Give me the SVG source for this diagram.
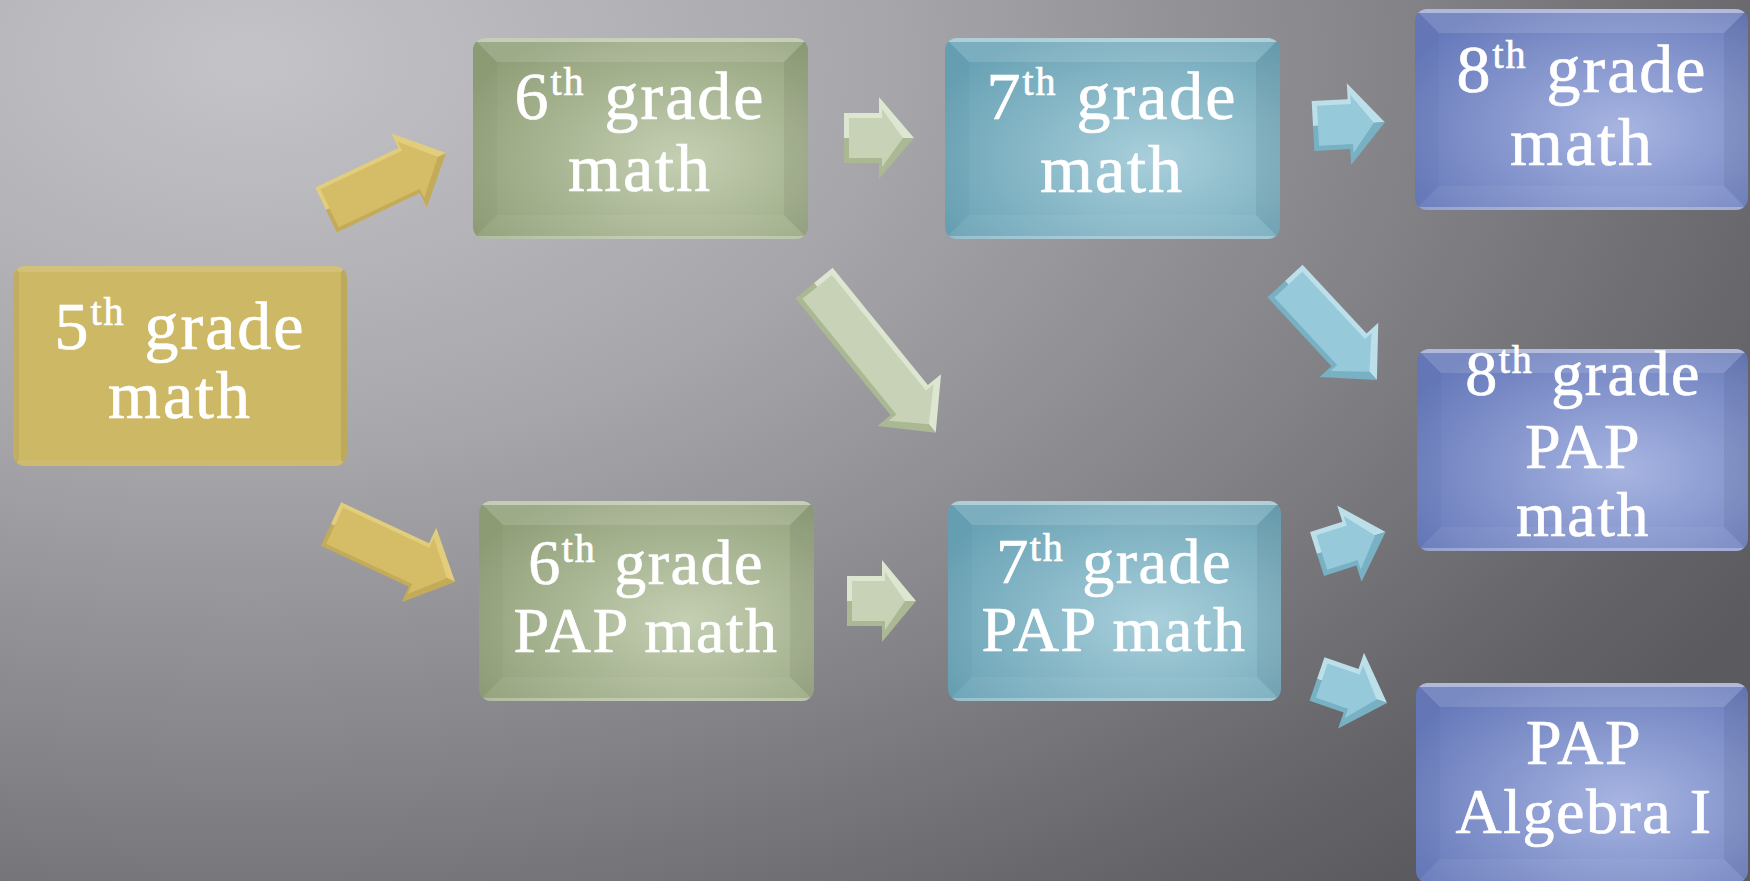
<svg xmlns="http://www.w3.org/2000/svg" width="1750" height="881" viewBox="0 0 1750 881">
<style>
.lbl{font-family:"Liberation Serif","DejaVu Serif",serif;fill:#ffffff;stroke:#ffffff;stroke-width:0.7px;text-anchor:middle}
.big{font-size:68px;letter-spacing:2px}
.pap{font-size:64px;letter-spacing:1.5px}
.sup{font-size:40px;letter-spacing:2px}
.bvT{fill:#ffffff;fill-opacity:0.13}
.bvB{fill:#ffffff;fill-opacity:0.05}
.bvL{fill:#000000;fill-opacity:0.02}
.bvR{fill:#000000;fill-opacity:0.06}
.hiT{fill:#ffffff;fill-opacity:0.4}
.hiB{fill:#ffffff;fill-opacity:0.28}
.gold .lt{fill:#E2CD7D}.gold .dk{fill:#C3AB59}.gold .fc{fill:#D5BD68}
.green .lt{fill:#DDE6D1}.green .dk{fill:#AAB894}.green .fc{fill:#C7D2B7}
.teal .lt{fill:#BCDFEA}.teal .dk{fill:#78B1C4}.teal .fc{fill:#96CADB}
</style>
<defs>
<radialGradient id="bg" gradientUnits="userSpaceOnUse" cx="250" cy="60" r="1750" gradientTransform="translate(250 60) scale(1 0.62) translate(-250 -60)">
<stop offset="0" stop-color="#C4C4C8"/>
<stop offset="0.35" stop-color="#A8A7AB"/>
<stop offset="0.65" stop-color="#858488"/>
<stop offset="0.9" stop-color="#656468"/>
<stop offset="1" stop-color="#5B5A5E"/>
</radialGradient>
<radialGradient id="gGreen" cx="0.62" cy="0.6" r="0.72">
<stop offset="0" stop-color="#C4CFB2"/>
<stop offset="1" stop-color="#909F78"/>
</radialGradient>
<radialGradient id="gTeal" cx="0.62" cy="0.6" r="0.72">
<stop offset="0" stop-color="#A9CFDB"/>
<stop offset="1" stop-color="#68A2B5"/>
</radialGradient>
<radialGradient id="gBlue" cx="0.62" cy="0.6" r="0.72">
<stop offset="0" stop-color="#A8B5E2"/>
<stop offset="1" stop-color="#6679BA"/>
</radialGradient>
<clipPath id="c5"><rect x="13" y="266" width="334" height="200" rx="12"/></clipPath>
<clipPath id="c6m"><rect x="473" y="38" width="335" height="201" rx="12"/></clipPath>
<clipPath id="c6p"><rect x="479" y="501" width="335" height="200" rx="12"/></clipPath>
<clipPath id="c7m"><rect x="945" y="38" width="335" height="201" rx="12"/></clipPath>
<clipPath id="c7p"><rect x="948" y="501" width="333" height="200" rx="12"/></clipPath>
<clipPath id="c8m"><rect x="1415" y="9" width="333" height="201" rx="12"/></clipPath>
<clipPath id="c8p"><rect x="1417" y="349" width="331" height="202" rx="12"/></clipPath>
<clipPath id="cAlg"><rect x="1416" y="683" width="332" height="200" rx="12"/></clipPath>
</defs>

<rect x="0" y="0" width="1750" height="881" fill="url(#bg)"/>

<g id="connectors">
 <g class="gold" transform="translate(326 210) rotate(-25.4)">
  <polygon class="lt" points="0,-25 92,-25 92,-41 133,0 0,0"/>
  <polygon class="dk" points="0,0 133,0 92,41 92,25 0,25"/>
  <polygon class="fc" points="4,-21 94,-21 94,-31 124,0 94,31 94,21 4,21"/>
 </g>
 <g class="gold" transform="translate(331 524) rotate(25)">
  <polygon class="lt" points="0,-24 97,-24 97,-41 137,0 0,0"/>
  <polygon class="dk" points="0,0 137,0 97,41 97,24 0,24"/>
  <polygon class="fc" points="4,-20 99,-20 99,-31 128,0 99,31 99,20 4,20"/>
 </g>
 <g class="green" transform="translate(844 138)">
  <polygon class="lt" points="0,-25 35,-25 35,-41 70,0 0,0"/>
  <polygon class="dk" points="0,0 70,0 35,41 35,25 0,25"/>
  <polygon class="fc" points="5,-20 38,-20 38,-29 59,0 38,29 38,20 5,20"/>
 </g>
 <g class="green" transform="translate(847 601)">
  <polygon class="lt" points="0,-25 35,-25 35,-41 69,0 0,0"/>
  <polygon class="dk" points="0,0 69,0 35,41 35,25 0,25"/>
  <polygon class="fc" points="5,-20 38,-20 38,-29 58,0 38,29 38,20 5,20"/>
 </g>
 <g class="green" transform="translate(814 283) rotate(50.9)">
  <polygon class="lt" points="0,-24 151,-24 151,-41 193,0 0,0"/>
  <polygon class="dk" points="0,0 193,0 151,41 151,24 0,24"/>
  <polygon class="fc" points="5,-19 154,-19 154,-29 182,0 154,29 154,19 5,19"/>
 </g>
 <g class="teal" transform="translate(1313 126) rotate(-3)">
  <polygon class="lt" points="0,-25 36,-25 36,-41 72,0 0,0"/>
  <polygon class="dk" points="0,0 72,0 36,41 36,25 0,25"/>
  <polygon class="fc" points="5,-20 39,-20 39,-29 61,0 39,29 39,20 5,20"/>
 </g>
 <g class="teal" transform="translate(1285 281) rotate(47.1)">
  <polygon class="lt" points="0,-24 94,-24 94,-40 135,0 0,0"/>
  <polygon class="dk" points="0,0 135,0 94,40 94,24 0,24"/>
  <polygon class="fc" points="5,-19 97,-19 97,-28 124,0 97,28 97,19 5,19"/>
 </g>
 <g class="teal" transform="translate(1317 554) rotate(-17.7)">
  <polygon class="lt" points="0,-23 34,-23 34,-40 72,0 0,0"/>
  <polygon class="dk" points="0,0 72,0 34,40 34,23 0,23"/>
  <polygon class="fc" points="5,-18 37,-18 37,-28 61,0 37,28 37,18 5,18"/>
 </g>
 <g class="teal" transform="translate(1317 679) rotate(18.9)">
  <polygon class="lt" points="0,-23 36,-23 36,-40 74,0 0,0"/>
  <polygon class="dk" points="0,0 74,0 36,40 36,23 0,23"/>
  <polygon class="fc" points="5,-18 39,-18 39,-28 63,0 39,28 39,18 5,18"/>
 </g>
</g>

<g id="node-5th-grade-math">
 <rect x="13" y="266" width="334" height="200" rx="12" fill="#CDB866"/>
 <g clip-path="url(#c5)">
  <polygon class="bvT" points="13,266 347,266 341,272 19,272"/>
  <polygon class="bvB" points="13,466 347,466 341,460 19,460"/>
  <polygon fill="#000" fill-opacity="0.05" points="13,266 19,272 19,460 13,466"/>
  <polygon fill="#000" fill-opacity="0.08" points="347,266 341,272 341,460 347,466"/>
 </g>
 <text class="lbl big" x="180" y="349">5<tspan class="sup" dy="-24">th</tspan><tspan dy="24"> grade</tspan></text>
 <text class="lbl big" x="180" y="418">math</text>
</g>

<g id="node-6th-grade-math">
 <rect x="473" y="38" width="335" height="201" rx="12" fill="url(#gGreen)"/>
 <g clip-path="url(#c6m)">
  <polygon class="bvT" points="473,38 808,38 784,62 497,62"/>
  <polygon class="bvB" points="473,239 808,239 784,215 497,215"/>
  <polygon class="bvL" points="473,38 497,62 497,215 473,239"/>
  <polygon class="bvR" points="808,38 784,62 784,215 808,239"/>
  <rect class="hiT" x="473" y="38" width="335" height="4"/>
  <rect class="hiB" x="473" y="236" width="335" height="3"/>
 </g>
 <text class="lbl big" x="640" y="119">6<tspan class="sup" dy="-24">th</tspan><tspan dy="24"> grade</tspan></text>
 <text class="lbl big" x="640" y="191">math</text>
</g>

<g id="node-6th-grade-pap-math">
 <rect x="479" y="501" width="335" height="200" rx="12" fill="url(#gGreen)"/>
 <g clip-path="url(#c6p)">
  <polygon class="bvT" points="479,501 814,501 790,525 503,525"/>
  <polygon class="bvB" points="479,701 814,701 790,677 503,677"/>
  <polygon class="bvL" points="479,501 503,525 503,677 479,701"/>
  <polygon class="bvR" points="814,501 790,525 790,677 814,701"/>
  <rect class="hiT" x="479" y="501" width="335" height="4"/>
  <rect class="hiB" x="479" y="698" width="335" height="3"/>
 </g>
 <text class="lbl pap" x="646" y="584">6<tspan class="sup" dy="-22">th</tspan><tspan dy="22"> grade</tspan></text>
 <text class="lbl pap" x="646" y="652">PAP math</text>
</g>

<g id="node-7th-grade-math">
 <rect x="945" y="38" width="335" height="201" rx="12" fill="url(#gTeal)"/>
 <g clip-path="url(#c7m)">
  <polygon class="bvT" points="945,38 1280,38 1256,62 969,62"/>
  <polygon class="bvB" points="945,239 1280,239 1256,215 969,215"/>
  <polygon class="bvL" points="945,38 969,62 969,215 945,239"/>
  <polygon class="bvR" points="1280,38 1256,62 1256,215 1280,239"/>
  <rect class="hiT" x="945" y="38" width="335" height="4"/>
  <rect class="hiB" x="945" y="236" width="335" height="3"/>
 </g>
 <text class="lbl big" x="1112" y="119">7<tspan class="sup" dy="-24">th</tspan><tspan dy="24"> grade</tspan></text>
 <text class="lbl big" x="1112" y="192">math</text>
</g>

<g id="node-7th-grade-pap-math">
 <rect x="948" y="501" width="333" height="200" rx="12" fill="url(#gTeal)"/>
 <g clip-path="url(#c7p)">
  <polygon class="bvT" points="948,501 1281,501 1257,525 972,525"/>
  <polygon class="bvB" points="948,701 1281,701 1257,677 972,677"/>
  <polygon class="bvL" points="948,501 972,525 972,677 948,701"/>
  <polygon class="bvR" points="1281,501 1257,525 1257,677 1281,701"/>
  <rect class="hiT" x="948" y="501" width="333" height="4"/>
  <rect class="hiB" x="948" y="698" width="333" height="3"/>
 </g>
 <text class="lbl pap" x="1114" y="583">7<tspan class="sup" dy="-22">th</tspan><tspan dy="22"> grade</tspan></text>
 <text class="lbl pap" x="1114" y="651">PAP math</text>
</g>

<g id="node-8th-grade-math">
 <rect x="1415" y="9" width="333" height="201" rx="12" fill="url(#gBlue)"/>
 <g clip-path="url(#c8m)">
  <polygon class="bvT" points="1415,9 1748,9 1724,33 1439,33"/>
  <polygon class="bvB" points="1415,210 1748,210 1724,186 1439,186"/>
  <polygon class="bvL" points="1415,9 1439,33 1439,186 1415,210"/>
  <polygon class="bvR" points="1748,9 1724,33 1724,186 1748,210"/>
  <rect class="hiT" x="1415" y="9" width="333" height="4"/>
  <rect class="hiB" x="1415" y="207" width="333" height="3"/>
 </g>
 <text class="lbl big" x="1582" y="92">8<tspan class="sup" dy="-24">th</tspan><tspan dy="24"> grade</tspan></text>
 <text class="lbl big" x="1582" y="165">math</text>
</g>

<g id="node-8th-grade-pap-math">
 <rect x="1417" y="349" width="331" height="202" rx="12" fill="url(#gBlue)"/>
 <g clip-path="url(#c8p)">
  <polygon class="bvT" points="1417,349 1748,349 1724,373 1441,373"/>
  <polygon class="bvB" points="1417,551 1748,551 1724,527 1441,527"/>
  <polygon class="bvL" points="1417,349 1441,373 1441,527 1417,551"/>
  <polygon class="bvR" points="1748,349 1724,373 1724,527 1748,551"/>
  <rect class="hiT" x="1417" y="349" width="331" height="4"/>
  <rect class="hiB" x="1417" y="548" width="331" height="3"/>
 </g>
 <text class="lbl pap" x="1583" y="395">8<tspan class="sup" dy="-22">th</tspan><tspan dy="22"> grade</tspan></text>
 <text class="lbl pap" x="1583" y="468">PAP</text>
 <text class="lbl pap" x="1583" y="536">math</text>
</g>

<g id="node-pap-algebra-i">
 <rect x="1416" y="683" width="332" height="200" rx="12" fill="url(#gBlue)"/>
 <g clip-path="url(#cAlg)">
  <polygon class="bvT" points="1416,683 1748,683 1724,707 1440,707"/>
  <polygon class="bvB" points="1416,883 1748,883 1724,859 1440,859"/>
  <polygon class="bvL" points="1416,683 1440,707 1440,859 1416,883"/>
  <polygon class="bvR" points="1748,683 1724,707 1724,859 1748,883"/>
  <rect class="hiT" x="1416" y="683" width="332" height="4"/>
 </g>
 <text class="lbl pap" x="1584" y="764">PAP</text>
 <text class="lbl pap" x="1584" y="833">Algebra I</text>
</g>
</svg>
